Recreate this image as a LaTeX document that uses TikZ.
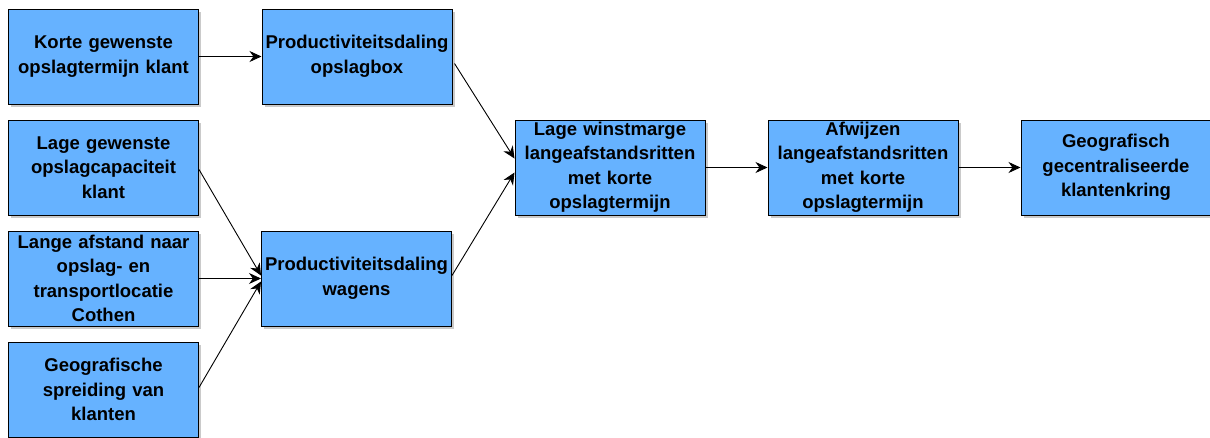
\documentclass[tikz,border=0pt]{standalone}
\usepackage{fontspec}
\setmainfont{Liberation Sans}
\usetikzlibrary{arrows.meta,shadows,calc}
\definecolor{boxblue}{RGB}{102,178,255}
\tikzset{
  box/.style={draw=black, line width=1pt, fill=boxblue, rectangle,
    minimum width=190pt, minimum height=95pt, inner sep=0pt,
    text width=190pt, align=center,
    font=\fontsize{18.5}{24.5}\selectfont\bfseries,
    drop shadow={shadow xshift=2.5pt, shadow yshift=-2.5pt, fill=black!35, opacity=0.6}},
  conn/.style={draw=black, line width=0.9pt, -{Stealth[length=12pt,width=11pt]}}
}
\begin{document}
\begin{tikzpicture}[x=1pt,y=-1pt]
\useasboundingbox (0,0) rectangle (1210,437);
\clip (0,0) rectangle (1210,437);
\node[box] (a1) at (103.5,56.5) {Korte gewenste\\opslagtermijn klant};
\node[box] (a2) at (103.5,167.5) {Lage gewenste\\opslagcapaciteit\\klant};
\node[box] (a3) at (103.5,278.5) {Lange afstand naar\\opslag- en\\transportlocatie\\Cothen};
\node[box] (a4) at (103.5,389.5) {Geografische\\spreiding van\\klanten};
\node[box] (b1) at (357,56.5) {Productiviteitsdaling\\opslagbox};
\node[box] (b2) at (356.5,278.5) {Productiviteitsdaling\\wagens};
\node[box] (c) at (610,167.5) {Lage winstmarge\\langeafstandsritten\\met korte\\opslagtermijn};
\node[box] (d) at (863,167.5) {Afwijzen\\langeafstandsritten\\met korte\\opslagtermijn};
\node[box] (e) at (1116,167.5) {Geografisch\\gecentraliseerde\\klantenkring};

\draw[conn] (a1.east) -- (b1.west);
\draw[conn] ($(b1.east)+(2,7)$) -- ($(c.west)+(0,-9)$);
\draw[conn] ($(b2.east)+(0,-3)$) -- ($(c.west)+(0,5)$);
\draw[conn] ($(a2.east)+(0,2)$) -- ($(b2.west)+(0,-3)$);
\draw[conn] (a3.east) -- (b2.west);
\draw[conn] ($(a4.east)+(0,-2)$) -- ($(b2.west)+(0,3)$);
\draw[conn] (c.east) -- (d.west);
\draw[conn] (d.east) -- (e.west);
\end{tikzpicture}
\end{document}
